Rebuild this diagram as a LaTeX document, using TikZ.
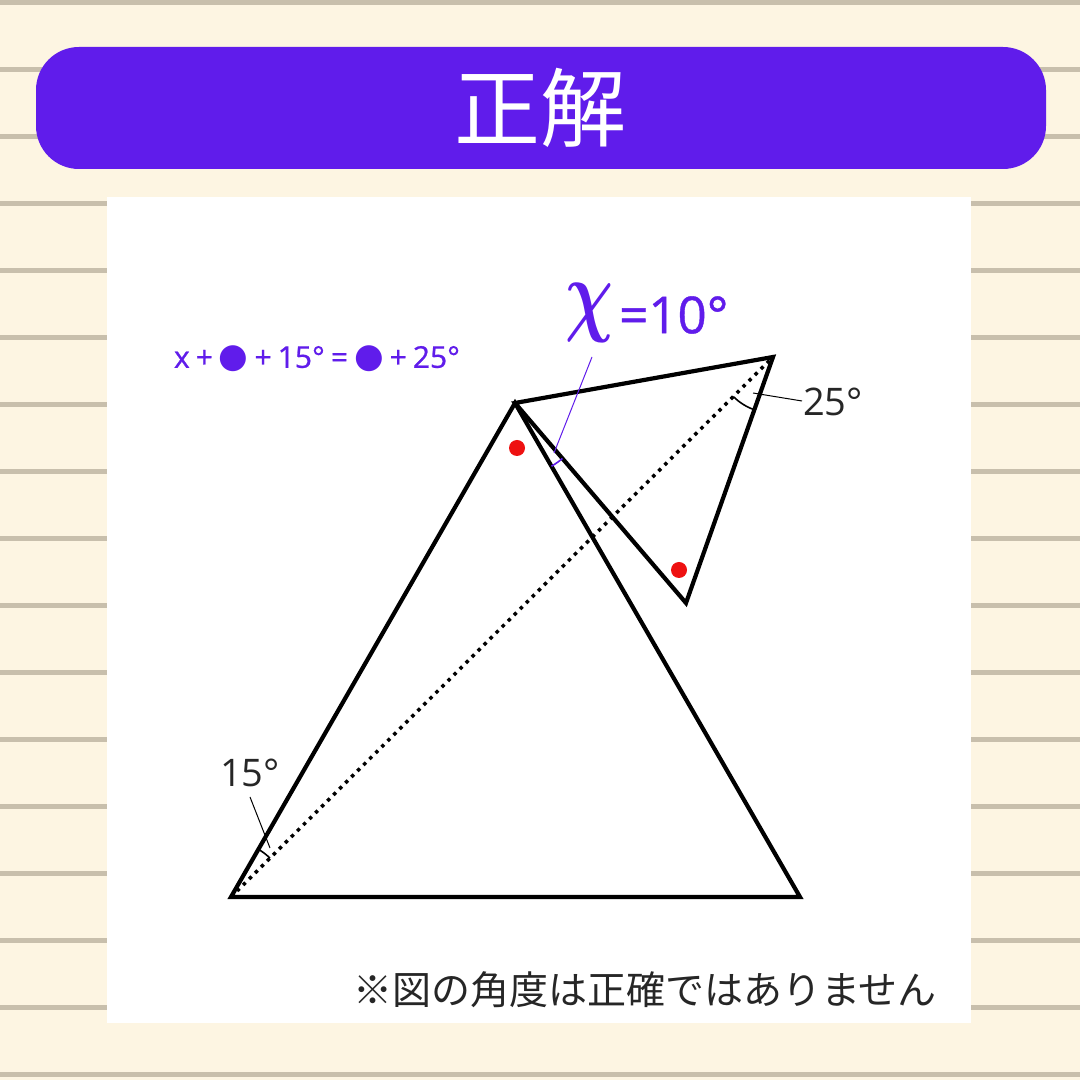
\documentclass[tikz,border=0pt]{standalone}
\usepackage{graphicx}
\usepackage{amsmath}
\usepackage{fontspec}
\setmainfont{Open Sans}
\newfontfamily\jp{Noto Sans CJK JP}
\newfontfamily\dv{DejaVu Sans}
\newfontfamily\osm[FakeBold=0.8]{Open Sans}
\usetikzlibrary{angles,quotes}
\definecolor{bg}{HTML}{FDF5E2}
\definecolor{stripe}{HTML}{C8BFAC}
\definecolor{vio}{HTML}{601CEB}
\definecolor{dotred}{HTML}{EE1111}
\newcommand{\bul}{{\dv\fontsize{34}{34}\selectfont ●}}
\newcommand{\gp}{\hspace{6pt}}
\tikzset{
  edge/.style={line width=4.2pt, line join=miter},
  angarc/.style={draw, line width=1.6pt},
  leader/.style={line width=1pt},
  lbl/.style={font=\fontsize{38}{40}\selectfont, text=black!85},
  reddot/.style={circle, fill=dotred, inner sep=0pt, minimum size=16pt},
}
\begin{document}
\begin{tikzpicture}[x=1pt,y=1pt]
\useasboundingbox (0,0) rectangle (1080,1080);
\fill[bg] (0,0) rectangle (1080,1080);
\foreach \k in {0,...,16} {
  \fill[stripe] (0,{1080-3-67*\k-2.5}) rectangle (1080,{1080-3-67*\k+2.5});
}
% banner
\fill[vio, rounded corners=43pt] (36,911) rectangle (1046,1033);
\node[text=white, font=\jp\fontsize{86}{90}\selectfont] (title) at (540,972) {正解};
% panel
\fill[white] (107,57) rectangle (971,883);
% points
\coordinate (A) at (231,183);
\coordinate (B) at (800,183);
\coordinate (P) at (515,677);
\coordinate (Q) at (773,723);
\coordinate (R) at (686,477);
% dotted
\draw[line width=3.5pt, dash pattern=on 3.5pt off 5pt] (A) -- (Q);
% triangles
\draw[edge] (A) -- (B) -- (P) -- cycle;
\draw[edge] (P) -- (Q) -- (R) -- cycle;
% arcs
\pic[angarc, angle radius=55pt] {angle = Q--A--P};
\pic[angarc, angle radius=56pt] {angle = A--Q--R};
\pic[angarc, draw=vio, angle radius=73pt] {angle = B--P--R};
% red dots
\node[reddot] (d1) at (517,632) {};
\node[reddot] (d2) at (679,510) {};
% labels
\node[lbl] (l15) at (250,307) {15°};
\coordinate (l15a) at (250,283);
\coordinate (l15b) at (270,232);
\draw[leader] (l15a) -- (l15b);
\node[lbl] (l25) at (833,678) {25°};
\coordinate (l25a) at (802,679);
\coordinate (l25b) at (753,687);
\draw[leader] (l25a) -- (l25b);
% x label
\node[text=vio, inner sep=0pt] (chi) at (589,767) {\resizebox*{48pt}{59pt}{$\boldsymbol{\chi}$}};
\node[text=vio, font=\osm\fontsize{51}{52}\selectfont, anchor=west, inner sep=0pt] (ten) at (619,765) {=10°};
\coordinate (xa) at (592,723);
\coordinate (xb) at (554,627);
\draw[leader, draw=vio] (xa) -- (xb);
% formula
\node[text=vio, font=\osm\fontsize{30}{32}\selectfont] (formula) at (317,721) {x\gp+\gp\bul\gp+\gp15°\gp=\gp\bul\gp+\gp25°};
% note
\node[font=\jp\fontsize{39}{42}\selectfont, text=black!85] (note) at (645,90) {※図の角度は正確ではありません};
\end{tikzpicture}
\end{document}
